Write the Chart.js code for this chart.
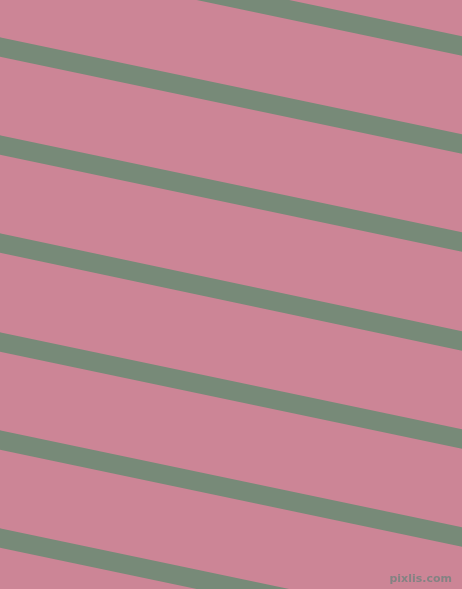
<!DOCTYPE html>
<html>
<head>
<meta charset="utf-8">
<script src="https://cdn.jsdelivr.net/npm/chart.js@4/dist/chart.umd.min.js"></script>
<style>
  html, body { margin: 0; padding: 0; background: #cc8596; }
  #wrap { width: 462px; height: 589px; }
</style>
</head>
<body>
<div id="wrap"><canvas id="stripes" width="462" height="589"></canvas></div>
<script>
// x positions of the two ends of each stripe (left and right edge of the picture)
const edgeX = [0, 462];
// centre line of each stripe where it meets the left and right edges (pixels from top)
const stripeLeft = [-51, 47, 145, 243, 342, 440, 538];
const stripeRight = [46, 144, 242, 341, 439, 537, 635];

const pink = '#cc8596';
const green = '#778a78';

const datasets = stripeLeft.map((y0, i) => ({
    data: [
        { x: edgeX[0], y: y0 },
        { x: edgeX[1], y: stripeRight[i] }
    ],
    borderColor: green,
    borderWidth: 19,
    borderCapStyle: 'square',
    pointRadius: 0,
    tension: 0,
    clip: false
}));

// pink background + small watermark in the corner
const backdrop = {
    id: 'backdrop',
    beforeDraw(chart) {
        const ctx = chart.ctx;
        ctx.save();
        ctx.fillStyle = pink;
        ctx.fillRect(0, 0, chart.width, chart.height);
        ctx.restore();
    },
    afterDraw(chart) {
        const ctx = chart.ctx;
        ctx.save();
        ctx.font = 'bold 11px "DejaVu Sans"';
        ctx.textAlign = 'right';
        ctx.textBaseline = 'alphabetic';
        ctx.fillStyle = '#838383';
        ctx.fillText('pixlis.com', 452, 582);
        ctx.restore();
    }
};

const ctx = document.getElementById('stripes').getContext('2d');
new Chart(ctx, {
    type: 'line',
    data: { datasets: datasets },
    options: {
        responsive: false,
        animation: false,
        events: [],
        layout: { padding: 0 },
        plugins: {
            legend: { display: false },
            tooltip: { enabled: false }
        },
        scales: {
            x: { type: 'linear', min: 0, max: 462, display: false },
            y: { type: 'linear', min: 0, max: 589, reverse: true, display: false }
        }
    },
    plugins: [backdrop]
});
</script>
</body>
</html>
